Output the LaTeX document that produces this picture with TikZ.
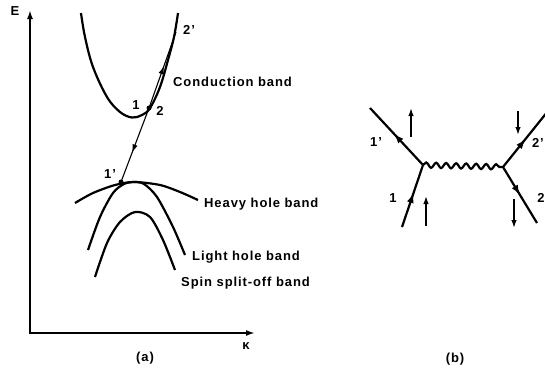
\documentclass[tikz,border=0pt]{standalone}
\usepackage{fontspec}
\setmainfont{Liberation Sans}[LetterSpace=7]
\usetikzlibrary{arrows.meta,decorations.markings,decorations.pathmorphing}
\begin{document}
\begin{tikzpicture}[x=1pt,y=-1pt,
  lab/.style={font=\bfseries\fontsize{13}{14}\selectfont, inner sep=0pt},
  axisline/.style={line width=1.8pt,-{Latex[length=9pt,width=6pt]}},
  band/.style={line width=2.2pt},
  thinline/.style={line width=1.1pt},
  fline/.style={line width=2.2pt},
  spin/.style={line width=1.5pt,-{Latex[length=8pt,width=5.5pt]}},
  midarrow/.style={postaction={decorate},decoration={markings,
     mark=at position #1 with {\arrow{Latex[length=10pt,width=7pt]}}}},
  smallmid/.style={postaction={decorate},decoration={markings,
     mark=at position #1 with {\arrow{Latex[length=8pt,width=5.5pt]}}}},
  dotnode/.style={circle,fill=black,inner sep=0pt,minimum size=5pt}]
\useasboundingbox (0,0) rectangle (545,370);
% ---------- panel (a) ----------
\coordinate (origin) at (30,333);
\coordinate (etop) at (30,10);
\coordinate (kend) at (255,333);
\draw[axisline] (origin) -- (etop);
\draw[axisline] ([xshift=-1pt]origin) -- (kend);
\node[lab] (E) at (15,11) {E};
\node[lab] (kappa) at (246,346) {κ};
\node[lab] (a) at (145,358) {(a)};
% conduction band
\draw[band] plot[smooth,tension=0.6] coordinates {(81,13) (85,37) (93,67) (107,97) (120,112) (132,117.5) (142,115) (150,108) (160,87) (168,60) (174,37) (178,13)};
% heavy hole
\draw[band] plot[smooth] coordinates {(75,203) (93,193) (115,185) (134,182) (160,185) (180,192) (198,200)};
% light hole
\draw[band] plot[smooth] coordinates {(88,250) (100,217) (113,193) (124,184) (134,182) (144,184) (157,197) (173,227) (185,255)};
% split-off
\draw[band] plot[smooth] coordinates {(95,277) (107,243) (120,222) (135,212) (150,217) (163,240) (175,270)};
% states
\node[dotnode] (p2) at (149,108) {};
\node[dotnode] (p1p) at (121,182) {};
\coordinate (p2p) at (176,32);
\draw[thinline,smallmid=0.55] (p2.center) -- (p2p);
\draw[thinline,smallmid=0.6] (p2.center) -- (p1p.center);
\node[lab] (l1) at (136,105) {1};
\node[lab] (l2) at (160,111) {2};
\node[lab] (l2p) at (189,30) {2'};
\node[lab] (l1p) at (110,174) {1'};
\node[lab,anchor=west] (cb) at (173,82) {Conduction band};
\node[lab,anchor=west] (hh) at (204,204) {Heavy hole band};
\node[lab,anchor=west] (lh) at (192,257) {Light hole band};
\node[lab,anchor=west] (so) at (181,283) {Spin split-off band};
% ---------- panel (b) ----------
\coordinate (vL) at (423,165);
\coordinate (vR) at (503,167);
\coordinate (e1p) at (370,108);
\coordinate (e1) at (402,227);
\coordinate (e2p) at (548,111);
\coordinate (e2) at (537,223);
\draw[fline,decorate,decoration={snake,amplitude=2.6pt,segment length=10pt}] (vL) -- (vR);
\draw[fline,midarrow=0.55] (vL) -- (e1p);
\draw[fline,midarrow=0.55] (e1) -- (vL);
\draw[fline,midarrow=0.5] (vR) -- (e2p);
\draw[fline,midarrow=0.5] (vR) -- (e2);
\draw[spin] (411,137) -- (411,108);
\draw[spin] (518,111) -- (518,135);
\draw[spin] (426,226) -- (426,196);
\draw[spin] (514,199) -- (514,228);
\node[lab] (b1p) at (376,142) {1'};
\node[lab] (b1) at (393,198) {1};
\node[lab,anchor=east] (b2p) at (544,143) {2'};
\node[lab] (b2) at (541,198) {2};
\node[lab] (b) at (455,359) {(b)};
\end{tikzpicture}
\end{document}
